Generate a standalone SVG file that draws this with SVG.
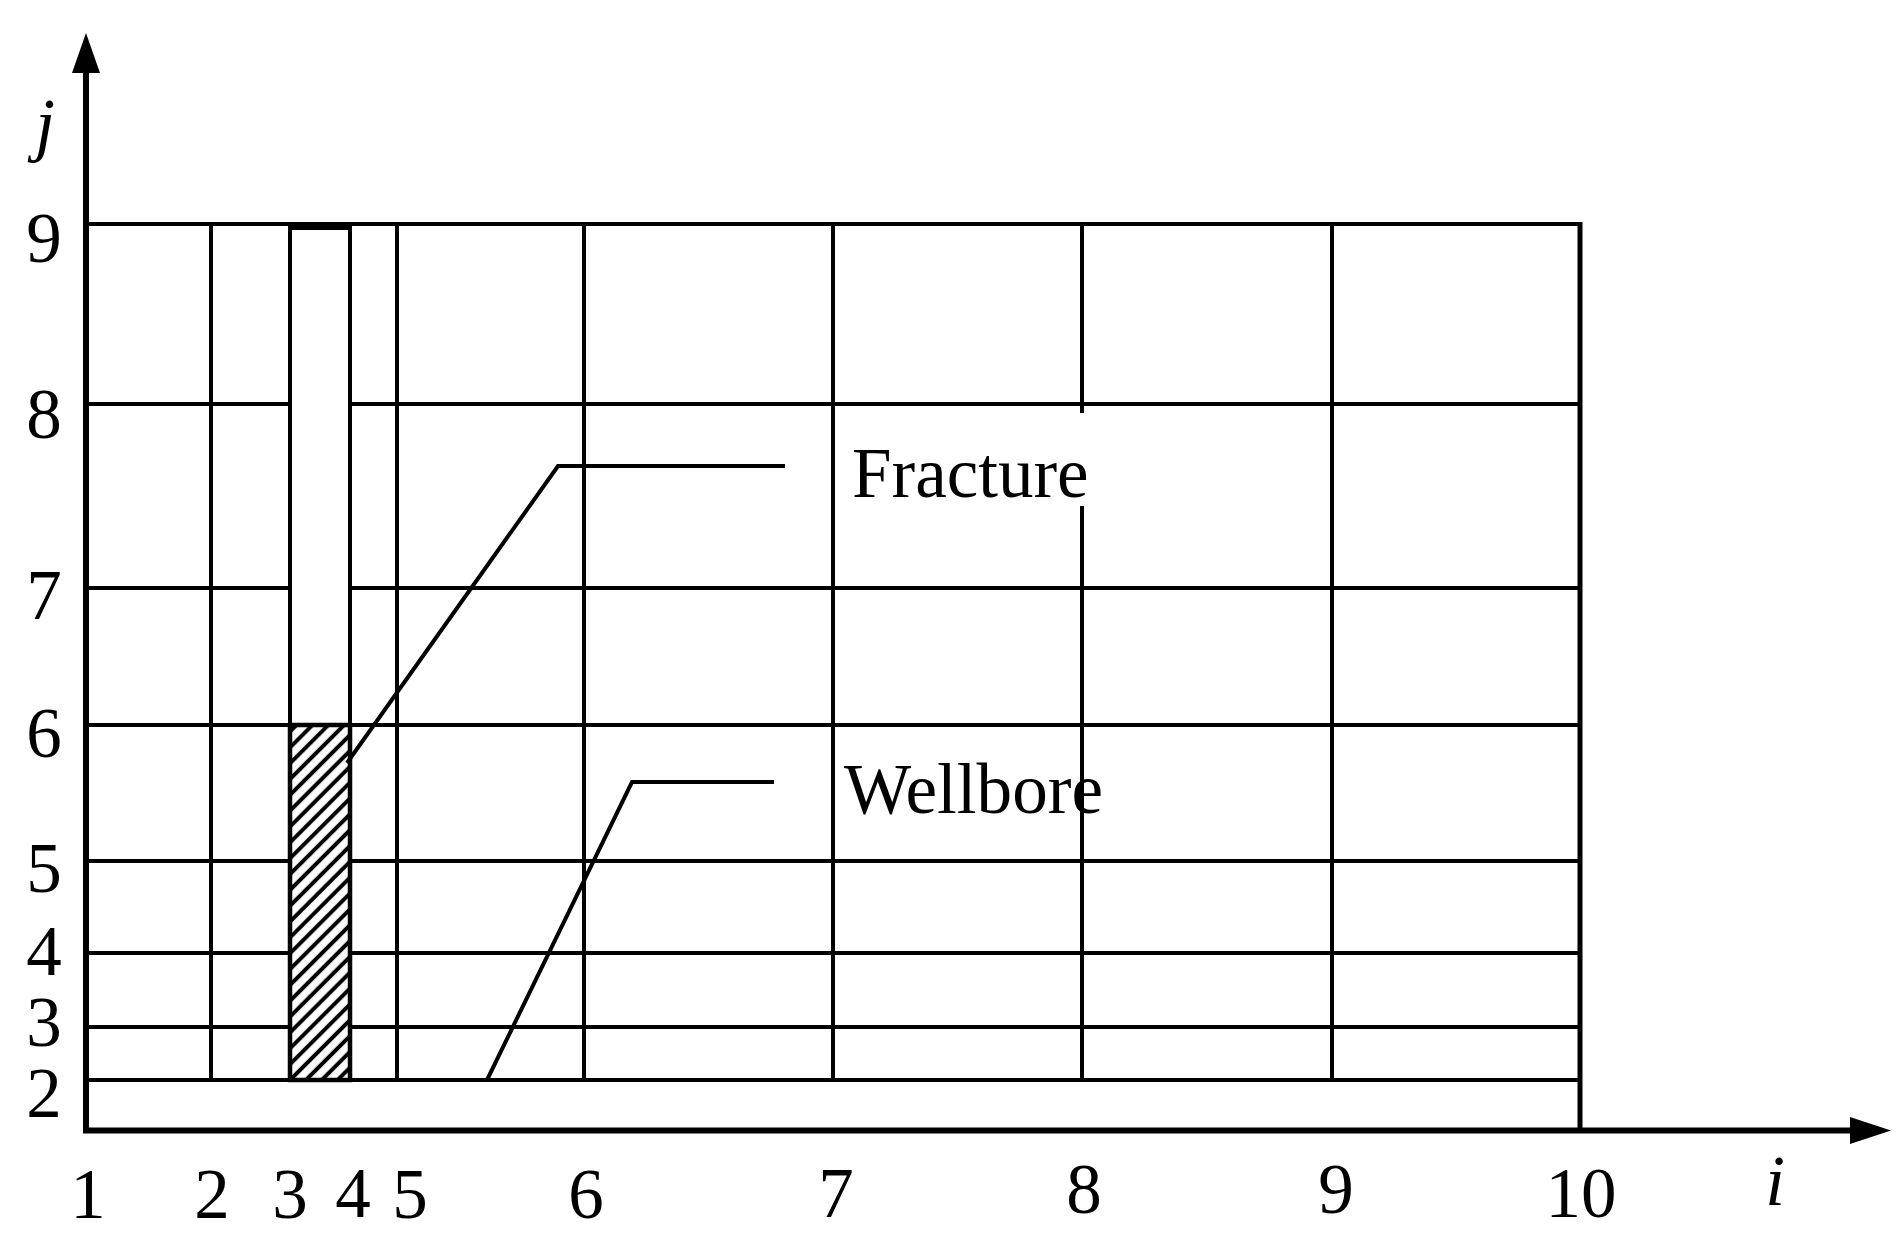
<svg xmlns="http://www.w3.org/2000/svg" width="1904" height="1250" viewBox="0 0 1904 1250">
<defs>
<style>
.g{stroke:#000;stroke-width:4;fill:none}
.ax{stroke:#000;stroke-width:6;fill:none}
.lbl{font-family:"Liberation Serif","Times New Roman",serif;font-size:71px;fill:#000;text-anchor:middle}
.it{font-style:italic}
.txt{font-family:"Liberation Serif","Times New Roman",serif;font-size:71px;fill:#000}
</style>
<pattern id="hatch" width="11.2" height="11.2" patternUnits="userSpaceOnUse" patternTransform="rotate(45)">
<rect width="11.2" height="11.2" fill="#fff"/>
<line x1="5.6" y1="-1" x2="5.6" y2="12.2" stroke="#000" stroke-width="4"/>
</pattern>
</defs>
<rect width="1904" height="1250" fill="#fff"/>

<g id="grid">
<line class="g" x1="86" y1="224" x2="1580" y2="224"/>
<line class="g" x1="86" y1="404" x2="1580" y2="404"/>
<line class="g" x1="86" y1="588" x2="1580" y2="588"/>
<line class="g" x1="86" y1="725" x2="1580" y2="725"/>
<line class="g" x1="86" y1="861" x2="1580" y2="861"/>
<line class="g" x1="86" y1="953" x2="1580" y2="953"/>
<line class="g" x1="86" y1="1027" x2="1580" y2="1027"/>
<line class="g" x1="86" y1="1080" x2="1580" y2="1080"/>
<line class="g" x1="211" y1="224" x2="211" y2="1080"/>
<line class="g" x1="397" y1="224" x2="397" y2="1080"/>
<line class="g" x1="584" y1="224" x2="584" y2="1080"/>
<line class="g" x1="833" y1="224" x2="833" y2="1080"/>
<line class="g" x1="1082" y1="224" x2="1082" y2="1080"/>
<line class="g" x1="1332" y1="224" x2="1332" y2="1080"/>
<line x1="1580" y1="222" x2="1580" y2="1131" stroke="#000" stroke-width="5"/>
</g>

<g id="axes">
<line class="ax" x1="86" y1="1133" x2="86" y2="68"/>
<polygon points="86,33 72,73 100,73" fill="#000"/>
<line class="ax" x1="83" y1="1130.5" x2="1855" y2="1130.5"/>
<polygon points="1891,1130.5 1850,1117 1850,1144" fill="#000"/>
</g>

<g id="fracture">
<rect x="290" y="227" width="60" height="498" fill="#fff" stroke="#000" stroke-width="4"/>
<line x1="288" y1="227" x2="352" y2="227" stroke="#000" stroke-width="6"/>
</g>

<g id="wellbore">
<rect x="290" y="725" width="60" height="355" fill="url(#hatch)" stroke="#000" stroke-width="4.5"/>
</g>

<g id="fracture-label">
<rect x="846" y="413" width="254" height="93" fill="#fff"/>
<text class="txt" x="852" y="497">Fracture</text>
</g>

<g id="wellbore-label">
<text class="txt" x="844" y="813" textLength="259" lengthAdjust="spacingAndGlyphs">Wellbore</text>
</g>

<g id="connectors">
<polyline class="g" points="785,466 558,466 347,763"/>
<polyline class="g" points="774,782 632,782 487,1080"/>
</g>

<g id="x-labels">
<text class="lbl" x="88" y="1218">1</text>
<text class="lbl" x="212" y="1218">2</text>
<text class="lbl" x="290" y="1218">3</text>
<text class="lbl" x="353" y="1217">4</text>
<text class="lbl" x="410" y="1218">5</text>
<text class="lbl" x="586" y="1218">6</text>
<text class="lbl" x="836" y="1217">7</text>
<text class="lbl" x="1084" y="1213">8</text>
<text class="lbl" x="1336" y="1213">9</text>
<text class="lbl" x="1581" y="1217">10</text>
<text class="lbl it" x="1775" y="1205">i</text>
</g>

<g id="y-labels">
<text class="lbl it" x="45" y="148">j</text>
<text class="lbl" x="44" y="262">9</text>
<text class="lbl" x="44" y="438">8</text>
<text class="lbl" x="44" y="619">7</text>
<text class="lbl" x="44" y="757">6</text>
<text class="lbl" x="44" y="892">5</text>
<text class="lbl" x="44" y="975">4</text>
<text class="lbl" x="44" y="1046">3</text>
<text class="lbl" x="44" y="1117">2</text>
</g>
</svg>
